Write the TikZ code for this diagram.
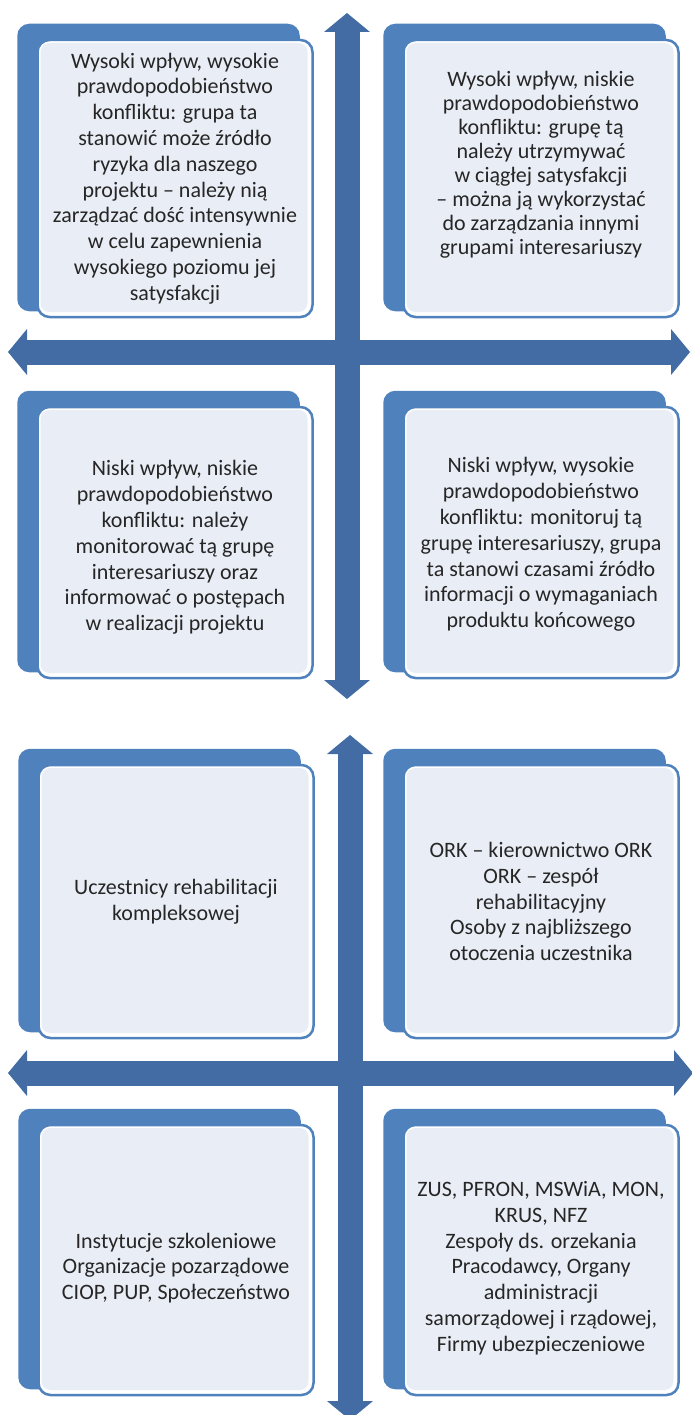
\documentclass[tikz,border=0pt]{standalone}
\usepackage{fontspec}
\setmainfont{Carlito}
\usetikzlibrary{arrows.meta,backgrounds}

\definecolor{plateblue}{RGB}{79,129,189}
\definecolor{axisblue}{RGB}{66,108,163}
\definecolor{cardfill}{RGB}{233,237,245}
\definecolor{textgray}{RGB}{38,38,38}

\tikzset{
	card/.style={draw=plateblue, line width=2.5pt, fill=white, rounded corners=12pt,
		minimum width=275pt, inner sep=0pt,
		path picture={\fill[cardfill, rounded corners=9pt]
			([shift={(3pt,-3pt)}]path picture bounding box.north west) rectangle
			([shift={(-5pt,5pt)}]path picture bounding box.south east);}},
	cardtext/.style={align=center, text=textgray, inner sep=0pt,
		font=\fontsize{22}{25.8}\selectfont},
	plate/.style={fill=plateblue, rounded corners=12pt},
	axisarrow/.style={axisblue, line width=25pt,
		{Triangle[width=46pt,length=19pt,line width=0pt]}-{Triangle[width=46pt,length=19pt,line width=0pt]}},
}

\begin{document}
\begin{tikzpicture}[x=1pt,y=-1pt]
	\useasboundingbox (0,0) rectangle (691,1415);
	% gorna macierz
	\coordinate (gn) at (347,13);
	\coordinate (gs) at (347,699);
	\coordinate (gw) at (8,352);
	\coordinate (ge) at (690,352);
	\draw[axisarrow] (gs) -- (gn);
	\draw[axisarrow] (gw) -- (ge);
	\node[card, minimum height=277pt, label={[cardtext]center:{Wysoki wpływ, wysokie\\prawdopodobieństwo\\konfliktu: grupa ta\\stanowić może źródło\\ryzyka dla naszego\\projektu – należy nią\\zarządzać dość intensywnie\\w celu zapewnienia\\wysokiego poziomu jej\\satysfakcji}}] (tl) at (175,178.5) {};
	\node[card, minimum height=277pt, label={[cardtext, yshift=14pt, font=\fontsize{22}{24}\selectfont]center:{Wysoki wpływ, niskie\\prawdopodobieństwo\\konfliktu: grupę tą\\należy utrzymywać\\w ciągłej satysfakcji\\– można ją wykorzystać\\do zarządzania innymi\\grupami interesariuszy}}] (tr) at (541,178.5) {};
	\node[card, minimum height=271pt, label={[cardtext, yshift=-5pt]center:{Niski wpływ, niskie\\prawdopodobieństwo\\konfliktu: należy\\monitorować tą grupę\\interesariuszy oraz\\informować o postępach\\w realizacji projektu}}] (ml) at (175,542.5) {};
	\node[card, minimum height=271pt, label={[cardtext, yshift=-2pt]center:{Niski wpływ, wysokie\\prawdopodobieństwo\\konfliktu: monitoruj tą\\grupę interesariuszy, grupa\\ta stanowi czasami źródło\\informacji o wymaganiach\\produktu końcowego}}] (mr) at (541,542.5) {};

	% dolna macierz
	\coordinate (dn) at (350,735);
	\coordinate (ds) at (350,1420);
	\coordinate (dw) at (8,1073);
	\coordinate (de) at (693,1073);
	\draw[axisarrow] (ds) -- (dn);
	\draw[axisarrow] (dw) -- (de);
	\node[card, minimum height=273pt, label={[cardtext]center:{Uczestnicy rehabilitacji\\kompleksowej}}] (ul) at (176,901.5) {};
	\node[card, minimum height=273pt, label={[cardtext]center:{ORK – kierownictwo ORK\\ORK – zespół\\rehabilitacyjny\\Osoby z najbliższego\\otoczenia uczestnika}}] (ur) at (541,901.5) {};
	\node[card, minimum height=270pt, label={[cardtext, yshift=-8pt]center:{Instytucje szkoleniowe\\Organizacje pozarządowe\\CIOP, PUP, Społeczeństwo}}] (ll) at (176,1260) {};
	\node[card, minimum height=270pt, label={[cardtext, yshift=-8pt]center:{ZUS, PFRON, MSWiA, MON,\\KRUS, NFZ\\Zespoły ds. orzekania\\Pracodawcy, Organy\\administracji\\samorządowej i rządowej,\\Firmy ubezpieczeniowe}}] (lr) at (541,1260) {};

	\begin{scope}[on background layer]
		\foreach \b in {tl,tr,ml,mr,ul,ur,ll,lr}
			\fill[plate] ([shift={(-19pt,15pt)}]\b.north west) rectangle ([shift={(-14pt,7pt)}]\b.south east);
	\end{scope}
\end{tikzpicture}
\end{document}
